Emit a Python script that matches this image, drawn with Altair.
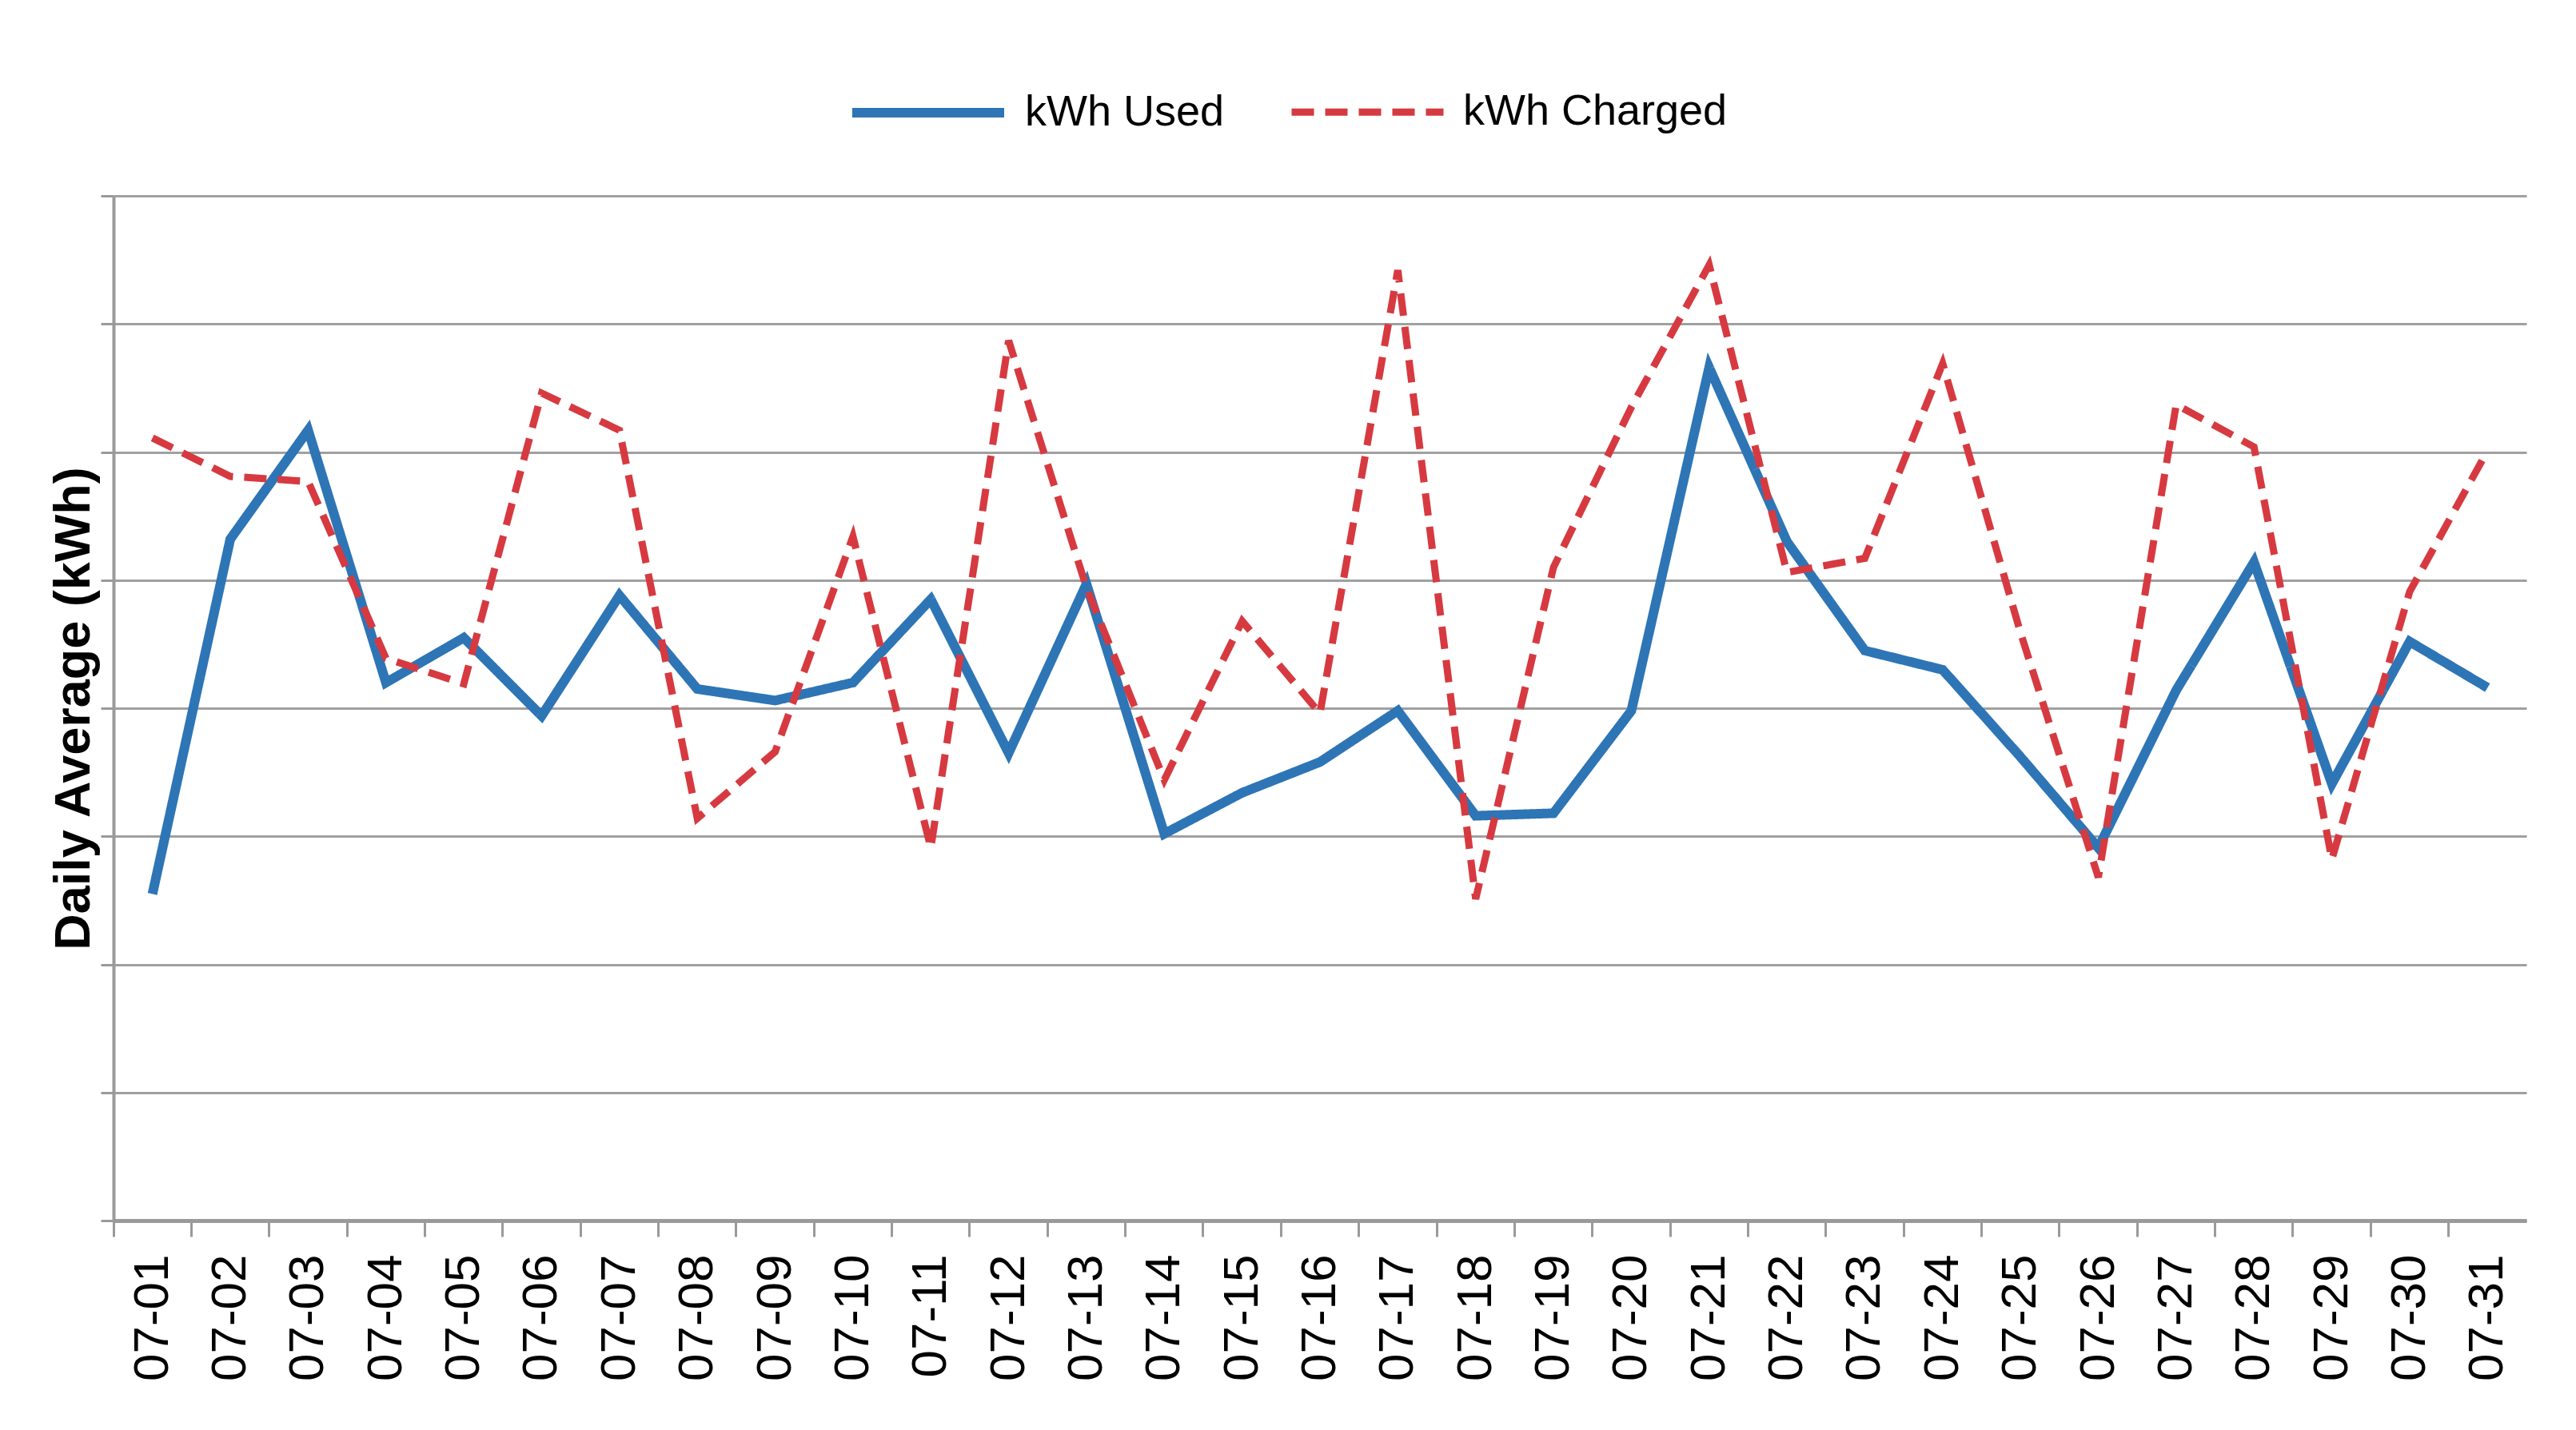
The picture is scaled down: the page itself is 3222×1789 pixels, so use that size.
import altair as alt
import pandas as pd

days = [f"07-{d:02d}" for d in range(1, 32)]

kwh_used = [2.55, 5.32, 6.17, 4.20, 4.55, 3.94, 4.88, 4.15, 4.06, 4.20,
            4.85, 3.65, 4.97, 3.02, 3.34, 3.58, 3.98, 3.16, 3.18, 3.98,
            6.66, 5.30, 4.45, 4.30, 3.62, 2.91, 4.14, 5.14, 3.41, 4.52, 4.16]

kwh_charged = [6.11, 5.81, 5.77, 4.39, 4.19, 6.46, 6.17, 3.14, 3.66, 5.34,
               2.91, 6.87, 4.94, 3.44, 4.68, 3.96, 7.42, 2.51, 5.10, 6.35,
               7.46, 5.06, 5.17, 6.69, 4.59, 2.68, 6.37, 6.04, 2.82, 4.91, 6.01]

series_names = ["kWh Used", "kWh Charged"]
series_colors = ["#2E75B6", "#D63A40"]

rows = []
for i, d in enumerate(days):
    rows.append({"day": d, "series": series_names[0], "value": kwh_used[i]})
    rows.append({"day": d, "series": series_names[1], "value": kwh_charged[i]})
df = pd.DataFrame(rows)

chart = alt.Chart(df).mark_line(strokeJoin="miter").encode(
    x=alt.X("day:N", sort=days, title=None,
            scale=alt.Scale(type="band", paddingInner=0, paddingOuter=0),
            axis=alt.Axis(labelAngle=-90, bandPosition=0, labelOffset=0,
                          labelFontSize=62, labelFont="Liberation Sans",
                          labelColor="#000000", labelPadding=22,
                          tickSize=20, tickColor="#9a9a9a", tickWidth=3,
                          domainColor="#9a9a9a", domainWidth=5, grid=False,
                          labelBaseline="middle")),
    y=alt.Y("value:Q", title="Daily Average (kWh)",
            scale=alt.Scale(domain=[0, 8], nice=False),
            axis=alt.Axis(values=list(range(0, 9)), labels=False,
                          tickSize=16, tickColor="#9a9a9a", tickWidth=3,
                          domainColor="#9a9a9a", domainWidth=4,
                          grid=True, gridColor="#a0a0a0", gridWidth=3,
                          titleFontSize=63, titleFont="Liberation Sans",
                          titleFontWeight="bold", titleColor="#000000",
                          titlePadding=0)),
    color=alt.Color("series:N", sort=series_names,
                    scale=alt.Scale(domain=series_names, range=series_colors),
                    legend=alt.Legend(title=None, orient="none", direction="horizontal",
                                      legendX=918, legendY=-205,
                                      symbolType="stroke", symbolSize=36100,
                                      symbolStrokeWidth=12,
                                      labelFontSize=54, labelFont="Liberation Sans",
                                      labelColor="#000000", labelOffset=20,
                                      labelLimit=0, columnPadding=65)),
    strokeDash=alt.StrokeDash("series:N", sort=series_names,
                              scale=alt.Scale(domain=series_names,
                                              range=[[1, 0], [28, 14]]),
                              legend=None),
    strokeWidth=alt.StrokeWidth("series:N", sort=series_names,
                                scale=alt.Scale(domain=series_names, range=[12, 9]),
                                legend=None),
    detail="series:N",
).properties(
    width=3018, height=1282,
    padding={"top": 32, "left": 53, "right": 5, "bottom": 5},
).configure_view(stroke=None)

chart.save("out.html", embed_options={"renderer": "svg", "actions": False})
